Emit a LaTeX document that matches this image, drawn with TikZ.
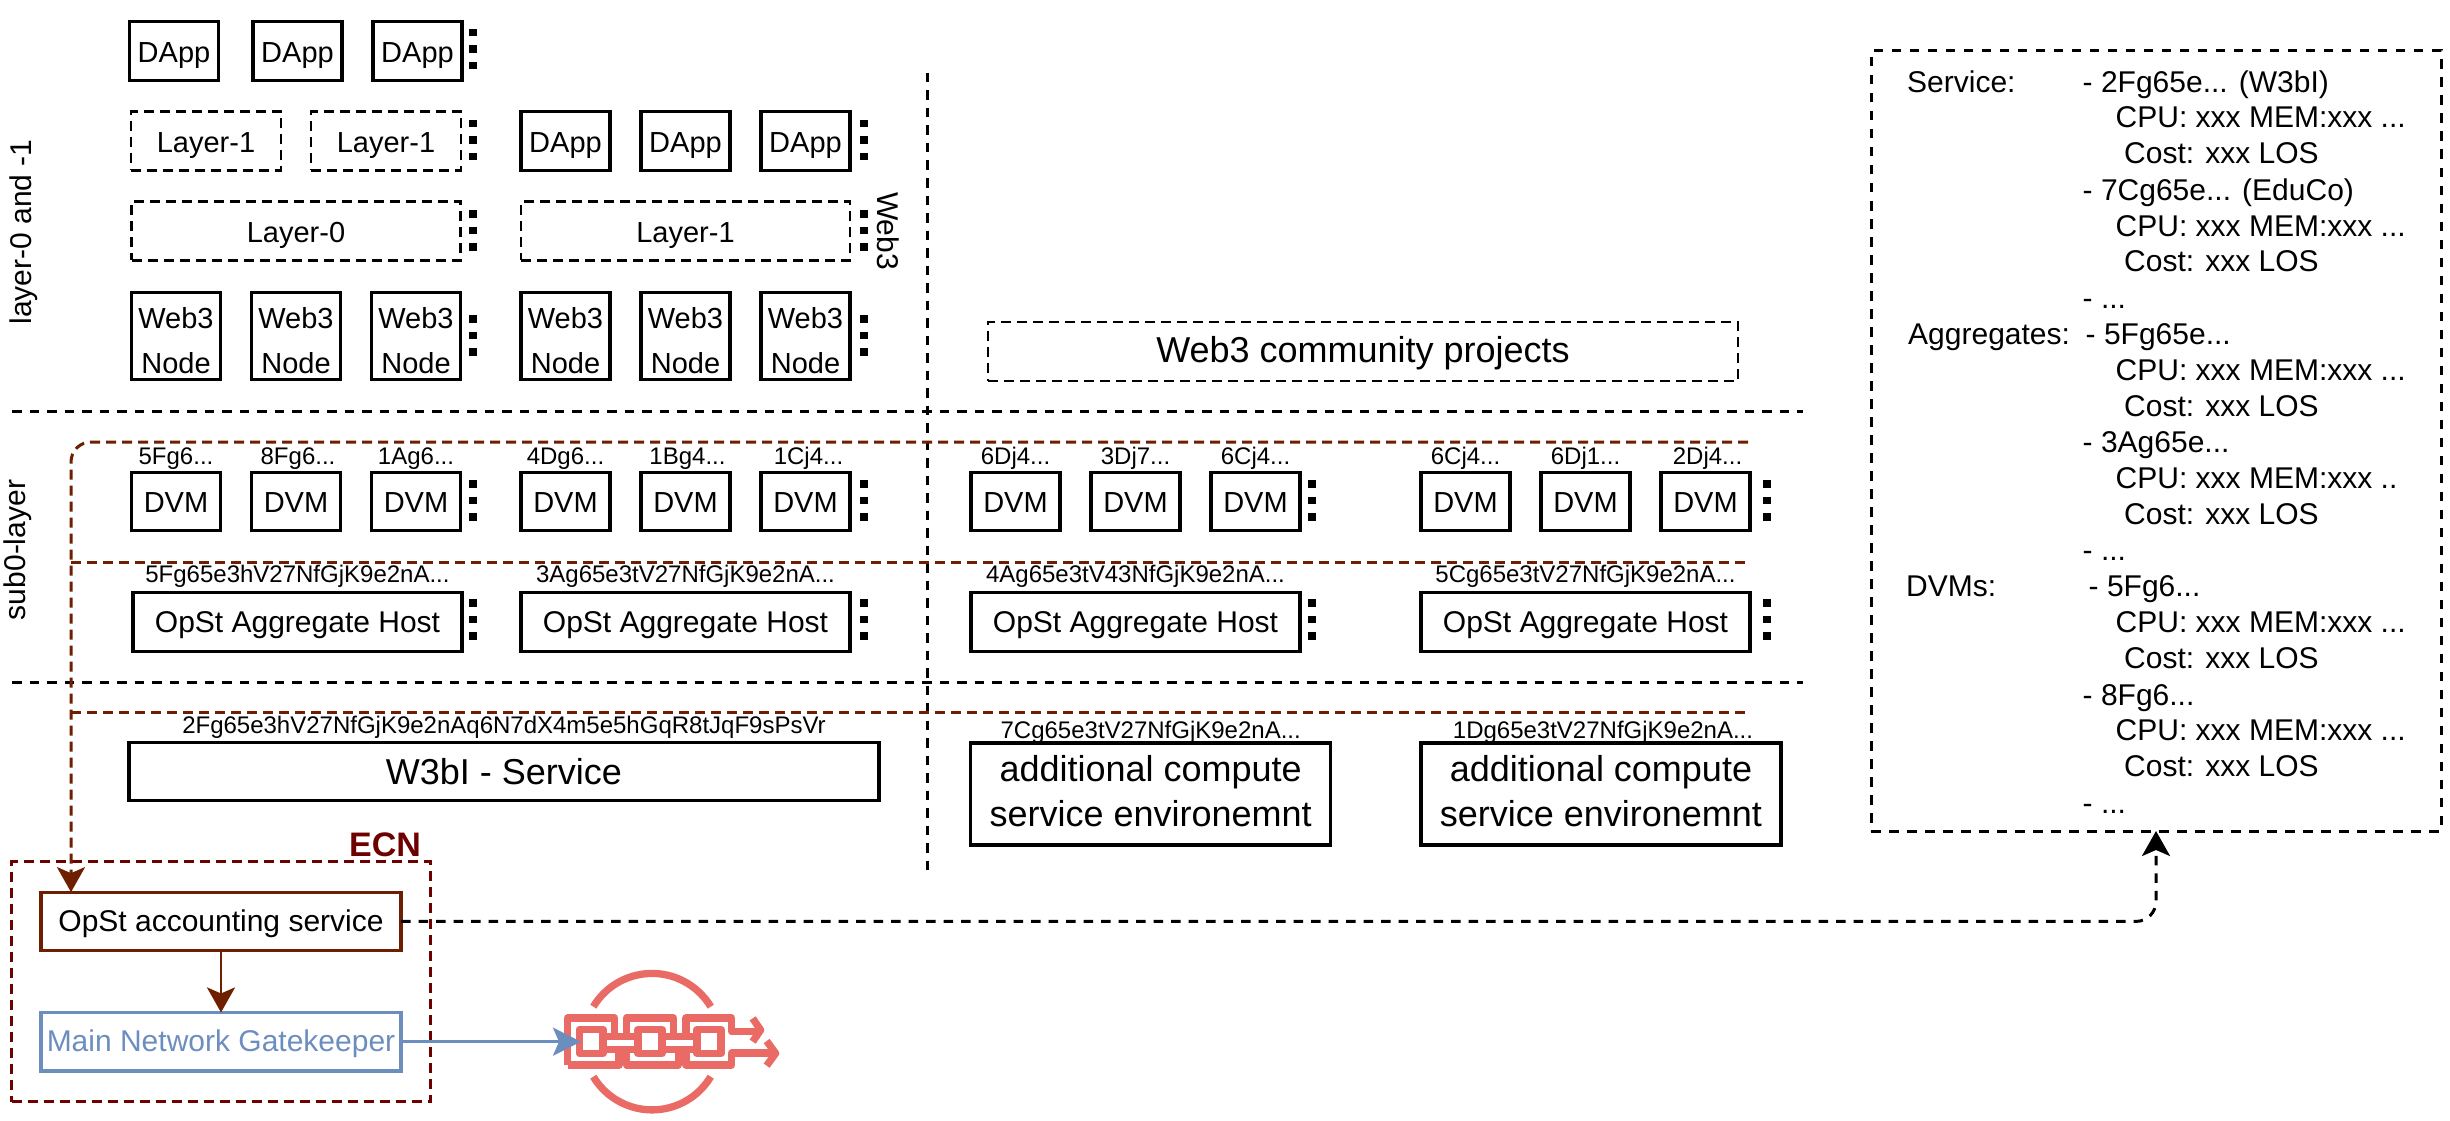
\documentclass[tikz,border=0pt]{standalone}
\usepackage{fontspec}
\setmainfont{Liberation Sans}
\usetikzlibrary{positioning,arrows.meta}
\definecolor{ecnred}{HTML}{6F0000}
\definecolor{accbrown}{HTML}{6D1F00}
\definecolor{gateblue}{HTML}{6C8EBF}
\definecolor{chainred}{HTML}{EA6B66}
\tikzset{
  unitbox/.style={draw, line width=3.2pt, inner sep=0pt, outer sep=0pt, align=center,
    minimum width=89pt, minimum height=58.5pt, font=\fontsize{29}{44.7}\selectfont,
    execute at begin node={\rule[-5pt]{0pt}{31.5pt}}},
  descbox/.style={execute at begin node={\rule[-5pt]{0pt}{34.5pt}}},
  widebox/.style={unitbox, minimum width=329pt},
  largetext/.style={font=\fontsize{36}{45.4}\selectfont, execute at begin node={\rule[-5pt]{0pt}{35pt}}},
  bigbox/.style={unitbox, largetext, minimum height=102pt, minimum width=360pt},
  hostbox/.style={widebox, font=\fontsize{30}{44.7}\selectfont},
  layerbox/.style={unitbox, descbox, line width=2.8pt, dash pattern=on 10pt off 6pt},
  idlabel/.style={inner sep=0pt, outer sep=0pt, text height=17pt, text depth=5pt, font=\fontsize{24}{26}\selectfont},
  sidelabel/.style={inner sep=0pt, font=\fontsize{30}{34}\selectfont},
  paneltext/.style={inner sep=0pt, anchor=base west, font=\fontsize{30}{34}\selectfont},
  moredots/.style={line width=8pt, dash pattern=on 7.5pt off 9pt},
  divider/.style={line width=3pt, dash pattern=on 9.5pt off 8pt},
  accline/.style={accbrown, line width=3pt, dash pattern=on 10pt off 6pt},
  chainline/.style={chainred, line width=7.3pt, line join=round},
  >={Stealth[length=25pt, width=28pt, inset=6pt]}
}
\newcommand{\moredotsat}[2]{\draw[moredots] (#1,#2) -- ++(0,41);}
\newcommand{\webnode}{\rule{0pt}{34.5pt}Web3\\Node}
\newcommand{\compnode}{additional compute\\service environemnt\rule[-6.4pt]{0pt}{0pt}}
\begin{document}
\begin{tikzpicture}[x=1pt, y=-1pt]
  \useasboundingbox (0,0) rectangle (2450,1121);
  % Dividers
  \coordinate (divtopl) at (12,411.5);
  \coordinate (divtopr) at (1803,411.5);
  \coordinate (divlowl) at (12,682);
  \coordinate (divlowr) at (1803,682);
  \coordinate (divup) at (927,73);
  \coordinate (divdown) at (927,872);
  \draw[divider] (divtopl) -- (divtopr);
  \draw[divider] (divlowl) -- (divlowr);
  \draw[divider] (divup) -- (divdown);
  % Side labels
  \node[sidelabel, rotate=90] (layerlabel) at (24,232) {layer-0 and -1};
  \node[sidelabel, rotate=90] (sublabel) at (18,550) {sub0-layer};
  \node[sidelabel, rotate=-90] (webthree) at (888,231) {Web3};
  % Top rows
  \node[unitbox, descbox] (dappa) at (174,51) {DApp};
  \node[unitbox, descbox, right=34.5pt of dappa] (dappb) {DApp};
  \node[unitbox, descbox, right=31pt of dappb] (dappc) {DApp};
  \node[layerbox, minimum width=150pt] (layera) at (206,141) {Layer-1};
  \node[layerbox, minimum width=150pt, right=30pt of layera] (layerb) {Layer-1};
  \node[unitbox, descbox] (dappd) at (565.5,141) {DApp};
  \node[unitbox, descbox, right=31pt of dappd] (dappe) {DApp};
  \node[unitbox, descbox, right=31pt of dappe] (dappf) {DApp};
  \node[layerbox, minimum width=329pt] (layerzero) at (296,231) {Layer-0};
  \node[layerbox, minimum width=329pt] (layerc) at (685.5,231) {Layer-1};
  \node[unitbox, minimum height=87.5pt] (nodea) at (176,336) {\webnode};
  \node[unitbox, minimum height=87.5pt, right=31pt of nodea] (nodeb) {\webnode};
  \node[unitbox, minimum height=87.5pt, right=31pt of nodeb] (nodec) {\webnode};
  \node[unitbox, minimum height=87.5pt] (noded) at (565.5,336) {\webnode};
  \node[unitbox, minimum height=87.5pt, right=31pt of noded] (nodee) {\webnode};
  \node[unitbox, minimum height=87.5pt, right=31pt of nodee] (nodef) {\webnode};
  \node[layerbox, largetext, minimum width=750pt, minimum height=59pt] (community) at (1363,351.5) {Web3 community projects};
  % DVM row
  \node[unitbox] (dvma) at (176,501.5) {DVM};
  \node[unitbox, right=31pt of dvma] (dvmb) {DVM};
  \node[unitbox, right=31pt of dvmb] (dvmc) {DVM};
  \node[unitbox] (dvmd) at (565.5,501.5) {DVM};
  \node[unitbox, right=31pt of dvmd] (dvme) {DVM};
  \node[unitbox, right=31pt of dvme] (dvmf) {DVM};
  \node[unitbox] (dvmg) at (1015.5,501.5) {DVM};
  \node[unitbox, right=31pt of dvmg] (dvmh) {DVM};
  \node[unitbox, right=31pt of dvmh] (dvmi) {DVM};
  \node[unitbox] (dvmj) at (1465.5,501.5) {DVM};
  \node[unitbox, right=31pt of dvmj] (dvmk) {DVM};
  \node[unitbox, right=31pt of dvmk] (dvml) {DVM};
  \node[idlabel, above=3pt of dvma] (ida) {5Fg6...};
  \node[idlabel, above=3pt of dvmb, xshift=2pt] (idb) {8Fg6...};
  \node[idlabel, above=3pt of dvmc] (idc) {1Ag6...};
  \node[idlabel, above=3pt of dvmd] (idd) {4Dg6...};
  \node[idlabel, above=3pt of dvme, xshift=2pt] (ide) {1Bg4...};
  \node[idlabel, above=3pt of dvmf, xshift=3pt] (idf) {1Cj4...};
  \node[idlabel, above=3pt of dvmg] (idg) {6Dj4...};
  \node[idlabel, above=3pt of dvmh] (idh) {3Dj7...};
  \node[idlabel, above=3pt of dvmi] (idi) {6Cj4...};
  \node[idlabel, above=3pt of dvmj] (idj) {6Cj4...};
  \node[idlabel, above=3pt of dvmk] (idk) {6Dj1...};
  \node[idlabel, above=3pt of dvml, xshift=2pt] (idl) {2Dj4...};
  % Aggregate hosts
  \node[hostbox] (hosta) at (297.5,622) {OpSt Aggregate Host};
  \node[hostbox] (hostb) at (685.5,622) {OpSt Aggregate Host};
  \node[hostbox] (hostc) at (1135.5,622) {OpSt Aggregate Host};
  \node[hostbox] (hostd) at (1585.5,622) {OpSt Aggregate Host};
  \node[idlabel, above=5pt of hosta] (hostida) {5Fg65e3hV27NfGjK9e2nA...};
  \node[idlabel, above=5pt of hostb] (hostidb) {3Ag65e3tV27NfGjK9e2nA...};
  \node[idlabel, above=5pt of hostc] (hostidc) {4Ag65e3tV43NfGjK9e2nA...};
  \node[idlabel, above=5pt of hostd] (hostidd) {5Cg65e3tV27NfGjK9e2nA...};
  % Services
  \node[unitbox, largetext, minimum width=750pt, minimum height=58pt] (service) at (504,771.7) {W3bI - Service};
  \node[bigbox] (compa) at (1150.7,794) {\compnode};
  \node[bigbox] (compb) at (1601,794) {\compnode};
  \node[idlabel, above=4pt of service] (serviceid) {2Fg65e3hV27NfGjK9e2nAq6N7dX4m5e5hGqR8tJqF9sPsVr};
  \node[idlabel, above=-0.5pt of compa] (compida) {7Cg65e3tV27NfGjK9e2nA...};
  \node[idlabel, above=-0.5pt of compb, xshift=2pt] (compidb) {1Dg65e3tV27NfGjK9e2nA...};
  % More dots
  \moredotsat{473}{29}
  \moredotsat{473}{120}
  \moredotsat{473}{210}
  \moredotsat{473}{315}
  \moredotsat{473}{480}
  \moredotsat{473}{599}
  \moredotsat{864}{120}
  \moredotsat{864}{210}
  \moredotsat{864}{315}
  \moredotsat{864}{480}
  \moredotsat{864}{599}
  \moredotsat{1312}{480}
  \moredotsat{1312}{599}
  \moredotsat{1767}{480}
  \moredotsat{1767}{599}
  % ECN
  \node[draw=ecnred, line width=3pt, dash pattern=on 10pt off 6pt, minimum width=419pt, minimum height=240pt, inner sep=0pt, outer sep=0pt] (ecn) at (221,981.7) {};
  \node[inner sep=0pt, text=ecnred, font=\fontsize{34}{40}\selectfont\bfseries] (ecnlabel) at (385,845) {ECN};
  \node[unitbox, draw=accbrown, minimum width=360pt, font=\fontsize{30}{44.7}\selectfont] (opst) at (221,921.4) {OpSt accounting service};
  \node[unitbox, draw=gateblue, text=gateblue, minimum width=360pt, font=\fontsize{30}{44.7}\selectfont] (gate) at (221,1041.7) {Main Network Gatekeeper};
  % Accounting lines
  \coordinate (accstart) at (1748,442);
  \coordinate (accleft) at (71,442);
  \coordinate (hostlinel) at (71,562);
  \coordinate (hostliner) at (1751,562);
  \coordinate (servlinel) at (71,712);
  \coordinate (servliner) at (1751,712);
  \draw[accline, ->, rounded corners=20pt] (accstart) -| ([xshift=-150pt]opst.north);
  \draw[accline] (hostlinel) -- (hostliner);
  \draw[accline] (servlinel) -- (servliner);
  \draw[->, accbrown, line width=2.6pt] (opst) -- (gate);
  % Chain icon
  \begin{scope}[shift={(550,960)}, x=0.3333pt, y=-0.3333pt]
    \draw[chainline] (53,315) -- (53,174) -- (194,174) -- (194,230) -- (229,230) -- (229,174) -- (370,174) -- (370,230) -- (408,230) -- (408,174) -- (545,174) -- (545,215) -- (628,215);
    \draw[chainline] (53,315) -- (207,315) -- (207,268) -- (229,268) -- (229,315) -- (385,315) -- (385,268) -- (408,268) -- (408,315) -- (545,315) -- (545,279) -- (668,279);
    \draw[chainline] (88,208) rectangle (159,281);
    \draw[chainline] (264,208) rectangle (336,281);
    \draw[chainline] (441,208) rectangle (513,281);
    \draw[chainline] (159,230) -- (264,230);
    \draw[chainline] (159,268) -- (264,268);
    \draw[chainline] (336,230) -- (441,230);
    \draw[chainline] (336,268) -- (441,268);
    \draw[chainline] (608,175) -- (632,210) -- (608,245);
    \draw[chainline] (650,243) -- (677,280) -- (650,317);
    \draw[chainline] (130,140) arc[start angle=149, end angle=31, radius=68.5pt];
    \draw[chainline] (130,350) arc[start angle=211, end angle=329, radius=68.5pt];
  \end{scope}
  \coordinate (chainin) at (581,1041.7);
  \draw[-{Stealth[length=28pt, width=28pt, inset=6pt]}, gateblue, line width=3.2pt] (gate) -- (chainin);
  % Info panel
  \node[draw, line width=3pt, dash pattern=on 9.5pt off 8.5pt, minimum width=570pt, minimum height=780pt, inner sep=0pt, outer sep=0pt] (panel) at (2156,441) {};
  \draw[->, line width=3pt, dash pattern=on 9.5pt off 8pt, rounded corners=20pt] (opst) -| (panel.south);
  \foreach \i/\xpos/\ypos/\txt in {
    1/1907/92.7/{Service:}, 2/2082.5/92.7/{- 2Fg65e... (W3bI)}, 3/2115.5/128/{CPU: xxx MEM:xxx ...}, 4/2124/164/{Cost: xxx LOS},
    5/2082.5/200.7/{- 7Cg65e... (EduCo)}, 6/2115.5/236/{CPU: xxx MEM:xxx ...}, 7/2124/271.7/{Cost: xxx LOS}, 8/2082.5/308/{- ...},
    9/1908/344/{Aggregates:}, 10/2085.5/344/{- 5Fg65e...}, 11/2115.5/380/{CPU: xxx MEM:xxx ...}, 12/2124/416/{Cost: xxx LOS},
    13/2082.5/452.7/{- 3Ag65e...}, 14/2115.5/488/{CPU: xxx MEM:xxx ..}, 15/2124/524/{Cost: xxx LOS}, 16/2082.5/560.7/{- ...},
    17/1906/596/{DVMs:}, 18/2088.5/596/{- 5Fg6...}, 19/2115.5/632/{CPU: xxx MEM:xxx ...}, 20/2124/668/{Cost: xxx LOS},
    21/2082.5/705/{- 8Fg6...}, 22/2115.5/740/{CPU: xxx MEM:xxx ...}, 23/2124/776/{Cost: xxx LOS}, 24/2082.5/813/{- ...}}
    \node[paneltext] (info\i) at (\xpos,\ypos) {\txt};
\end{tikzpicture}
\end{document}
